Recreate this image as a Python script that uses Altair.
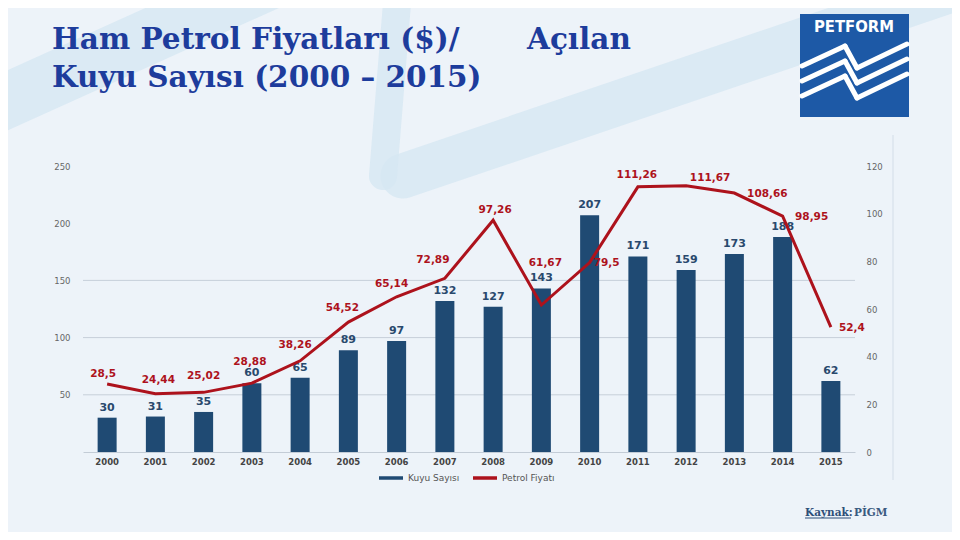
import altair as alt
import pandas as pd

years = [str(y) for y in range(2000, 2016)]
wells = [30, 31, 35, 60, 65, 89, 97, 132, 127, 143, 207, 171, 159, 173, 188, 62]
prices = [28.5, 24.44, 25.02, 28.88, 38.26, 54.52, 65.14, 72.89, 97.26, 61.67,
          79.5, 111.26, 111.67, 108.66, 98.95, 52.4]
price_labels = ["28,5", "24,44", "25,02", "28,88", "38,26", "54,52", "65,14", "72,89",
                "97,26", "61,67", "79,5", "111,26", "111,67", "108,66", "98,95", "52,4"]
left_ticks = [50, 100, 150, 200, 250]
right_ticks = [0, 20, 40, 60, 80, 100, 120]
grid_values = [50, 100, 150]
series = ["Kuyu Sayısı", "Petrol Fiyatı"]

# annotation offsets (pixels) for the price labels
label_offsets = [(-4, -10), (3, -14), (0, -16), (-2, -21), (-5, -16), (-6, -14), (-5, -13),
                 (-12, -18), (2, -10), (4, -42), (17, 0), (-1, -12), (24, -8), (33, 1),
                 (29, 1), (21, 1)]

BLUE = "#1f4a73"
RED = "#ad121c"
BG = "#edf3f9"
SWOOSH = "#d6e7f3"

df = pd.DataFrame({"year": years, "wells": wells, "price": prices,
                   "price_label": price_labels, "series": series[1]})

x = alt.X("year:N",
          scale=alt.Scale(paddingInner=0.6, paddingOuter=0.3),
          axis=alt.Axis(title=None, labelAngle=0, ticks=False, domainColor="#c3ccd6",
                        labelColor="#444", labelFont="DejaVu Sans", labelFontSize=8.5,
                        labelFontWeight="bold", labelPadding=5))
left_scale = alt.Scale(domain=[0, 250], nice=False)
right_scale = alt.Scale(domain=[0, 120], nice=False)
left_axis = alt.Axis(title=None, values=left_ticks, domain=False, ticks=False, grid=False,
                     labelColor="#666", labelFont="DejaVu Sans", labelFontSize=8.5,
                     labelPadding=13)
right_axis = alt.Axis(title=None, orient="right", values=right_ticks, domain=False,
                      ticks=False, grid=False, labelColor="#666", labelFont="DejaVu Sans",
                      labelFontSize=8.5, labelPadding=11)

one = pd.DataFrame({"a": [0]})

# decorative background swooshes
swooshes = [
    alt.Chart(one).mark_rule(color=SWOOSH, strokeWidth=w, strokeCap="round", opacity=0.8).encode(
        x=alt.value(x1), y=alt.value(y1), x2=alt.value(x2), y2=alt.value(y2))
    for (x1, y1, x2, y2, w) in [(-110, -50, 200, -190, 55), (320, 10, 880, -180, 45),
                                (315, -175, 300, 10, 28)]
]

grid = alt.Chart(pd.DataFrame({"g": grid_values})).mark_rule(
    color="#c6cfd9", strokeWidth=1).encode(y=alt.Y("g:Q", scale=left_scale, axis=left_axis))

base = alt.Chart(df)
bars = base.mark_bar(color=BLUE, size=19).encode(
    x=x, y=alt.Y("wells:Q", scale=left_scale, axis=left_axis))
bar_text = base.mark_text(baseline="bottom", dy=-5, color="#29496d", font="DejaVu Sans",
                          fontWeight="bold", fontSize=11).encode(
    x=x, y=alt.Y("wells:Q", scale=left_scale, axis=left_axis), text="wells:Q")

left = alt.layer(grid, bars, bar_text)

line = base.mark_line(strokeWidth=3).encode(
    x=x,
    y=alt.Y("price:Q", scale=right_scale, axis=right_axis),
    color=alt.Color("series:N", scale=alt.Scale(domain=series, range=[BLUE, RED]),
                    legend=alt.Legend(title=None, orient="none", legendX=294, legendY=298,
                                      direction="horizontal", symbolType="stroke",
                                      symbolSize=576, symbolStrokeWidth=3.5,
                                      labelFontSize=9, labelColor="#555",
                                      labelFont="DejaVu Sans", columnPadding=6,
                                      padding=0, labelOffset=3)))

label_layers = []
for yr, (dx, dy) in zip(years, label_offsets):
    label_layers.append(
        base.transform_filter(alt.datum.year == yr).mark_text(
            dx=dx, dy=dy, color=RED, font="DejaVu Sans", fontWeight="bold",
            fontSize=10.5, baseline="middle").encode(
            x=x, y=alt.Y("price:Q", scale=right_scale, axis=right_axis),
            text="price_label:N"))

right = alt.layer(line, *label_layers)

TITLE_STYLE = dict(align="left", baseline="alphabetic", font="DejaVu Serif",
                   fontWeight="bold", fontSize=29.5, color="#1d3c9c")
title1 = alt.Chart(one).mark_text(text="Ham Petrol Fiyatları ($)/", **TITLE_STYLE).encode(
    x=alt.value(-31), y=alt.value(-117))
title1b = alt.Chart(one).mark_text(text="Açılan", **TITLE_STYLE).encode(
    x=alt.value(444), y=alt.value(-117))
title2 = alt.Chart(one).mark_text(text="Kuyu Sayısı (2000 – 2015)", **TITLE_STYLE).encode(
    x=alt.value(-31), y=alt.value(-79))

logo = alt.Chart(one).mark_rect(color="#1d59a6").encode(
    x=alt.value(717), x2=alt.value(826), y=alt.value(-152), y2=alt.value(-49))
logo_text = alt.Chart(one).mark_text(text="PETFORM", font="DejaVu Sans Condensed",
                                     fontWeight="bold", fontSize=16.5, color="white",
                                     baseline="middle").encode(
    x=alt.value(771), y=alt.value(-139))
wave_segments = []
for d in (0, 15, 30):
    for (x1, y1, x2, y2) in [(719, -100, 762, -120), (762, -120, 774, -98),
                             (774, -98, 824, -122)]:
        wave_segments.append(
            alt.Chart(one).mark_rule(color="white", strokeWidth=5, strokeCap="round").encode(
                x=alt.value(x1), y=alt.value(y1 + d), x2=alt.value(x2), y2=alt.value(y2 + d)))

side_rule = alt.Chart(one).mark_rule(color="#d3dde8", strokeWidth=1).encode(
    x=alt.value(810), y=alt.value(-31), y2=alt.value(314))

kaynak = alt.Chart(one).mark_text(text="Kaynak:", align="left", baseline="alphabetic",
                                  font="DejaVu Serif", fontWeight="bold", fontSize=10.5,
                                  color="#2d4f78").encode(x=alt.value(722), y=alt.value(350))
kaynak_line = alt.Chart(one).mark_rule(color="#2d4f78", strokeWidth=1).encode(
    x=alt.value(722), x2=alt.value(768), y=alt.value(352))
pigm = alt.Chart(one).mark_text(text="PİGM", align="left", baseline="alphabetic",
                                font="DejaVu Serif", fontWeight="bold", fontSize=10.5,
                                color="#3a5a80").encode(x=alt.value(771), y=alt.value(350))

chart = alt.layer(*swooshes, side_rule, left, right, title1, title1b, title2, logo,
                  *wave_segments, logo_text, kaynak, kaynak_line, pigm).resolve_scale(
    y="independent").properties(
    width=772, height=286,
    padding={"left": 75, "top": 158, "right": 97, "bottom": 80},
    autosize=alt.AutoSizeParams(type="none"),
    background=BG,
).configure_view(stroke=None)

chart.save("out.html", embed_options={"renderer": "svg", "actions": False})
